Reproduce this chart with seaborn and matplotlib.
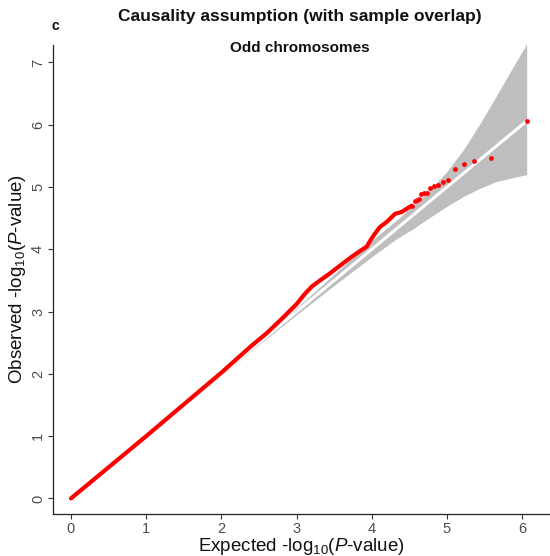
import matplotlib
matplotlib.use("Agg")
import matplotlib.pyplot as plt
import seaborn as sns
import pandas as pd

# ---- data ----
curve_expected = [0.0, 0.5, 1.0, 1.5, 2.0, 2.4, 2.6, 2.8, 3.0, 3.1, 3.2, 3.3, 3.44, 3.58,
                  3.71, 3.84, 3.93, 3.98, 4.04, 4.11, 4.20, 4.31, 4.40, 4.45, 4.53]
curve_observed = [0.0, 0.5, 1.0, 1.51, 2.02, 2.45, 2.65, 2.88, 3.12, 3.27, 3.40, 3.49, 3.61, 3.74,
                  3.86, 3.97, 4.04, 4.14, 4.25, 4.36, 4.44, 4.57, 4.60, 4.64, 4.70]

tail_expected = [4.53, 4.57, 4.60, 4.63, 4.66, 4.70, 4.73, 4.78, 4.83, 4.88, 4.95, 5.02,
                 5.11, 5.22, 5.36, 5.58, 6.06]
tail_observed = [4.70, 4.78, 4.79, 4.80, 4.88, 4.90, 4.91, 4.98, 5.01, 5.03, 5.08, 5.12,
                 5.29, 5.37, 5.42, 5.47, 6.06]

band_expected = [0.0, 1.0, 2.0, 2.5, 3.0, 3.5, 4.0, 4.33, 4.55, 4.77, 5.0, 5.22, 5.44,
                 5.66, 5.88, 6.06]
band_upper = [0.0, 1.0, 2.02, 2.53, 3.06, 3.60, 4.14, 4.47, 4.70, 4.95, 5.25, 5.60, 6.02,
              6.47, 6.93, 7.30]
band_lower = [0.0, 1.0, 1.98, 2.47, 2.95, 3.42, 3.88, 4.17, 4.33, 4.51, 4.69, 4.85, 4.98,
              5.09, 5.15, 5.20]

diag_ends = [0.0, 6.06]

title = "Causality assumption (with sample overlap)"
subtitle = "Odd chromosomes"
panel_tag = "c"
x_ticks = [0, 1, 2, 3, 4, 5, 6]
y_ticks = [0, 1, 2, 3, 4, 5, 6, 7]

# ---- plotting ----
sns.set_theme(style="ticks")
plt.rcParams["font.family"] = ["Liberation Sans", "DejaVu Sans"]
plt.rcParams["mathtext.fontset"] = "custom"
plt.rcParams["mathtext.rm"] = "Liberation Sans"
plt.rcParams["mathtext.it"] = "Liberation Sans:italic"

fig = plt.figure(figsize=(5.5, 5.56), dpi=100)
ax = fig.add_axes([52.7 / 550, 42 / 556, 1 - 52.7 / 550, (514 - 45) / 556])

band = pd.DataFrame({"x": band_expected, "lo": band_lower, "hi": band_upper})
ax.fill_between(band["x"], band["lo"], band["hi"], color="#BEBEBE", linewidth=0, zorder=1)

diag = pd.DataFrame({"x": diag_ends, "y": diag_ends})
sns.lineplot(data=diag, x="x", y="y", color="white", linewidth=2.2, ax=ax, zorder=2)

curve = pd.DataFrame({"x": curve_expected, "y": curve_observed})
sns.lineplot(data=curve, x="x", y="y", color="#FF0000", linewidth=3.0, ax=ax, zorder=3,
             solid_capstyle="round", solid_joinstyle="round")

tail = pd.DataFrame({"x": tail_expected, "y": tail_observed})
sns.scatterplot(data=tail, x="x", y="y", color="#FF0000", s=12, linewidth=0, ax=ax, zorder=4)

ax.set_xlim(-0.243, 6.37)
ax.set_ylim(-0.25, 7.28)
ax.set_xticks(x_ticks)
ax.set_yticks(y_ticks)
ax.tick_params(axis="both", which="major", length=3.5, width=0.8, color="#333333",
               labelsize=10.5, labelcolor="#4D4D4D", pad=2)
for lab in ax.get_yticklabels():
    lab.set_rotation(90)
    lab.set_va("center")
for side in ["top", "right"]:
    ax.spines[side].set_visible(False)
for side in ["left", "bottom"]:
    ax.spines[side].set_linewidth(0.9)
    ax.spines[side].set_color("#222222")

ax.set_xlabel(r"Expected -log$_{10}$($\it{P}$-value)", fontsize=13.5, color="#111111", labelpad=0)
ax.set_ylabel(r"Observed -log$_{10}$($\it{P}$-value)", fontsize=13.5, color="#111111", labelpad=2)

fig.text(300 / 550, 1 - 17 / 556, title, ha="center", va="center", fontsize=12.5,
         fontweight="bold", color="#111111")
fig.text(300 / 550, 1 - 48 / 556, subtitle, ha="center", va="center", fontsize=11,
         fontweight="bold", color="#111111")
fig.text(55 / 550, 1 - 26 / 556, panel_tag, ha="center", va="center", fontsize=10,
         fontweight="bold", color="#111111")

fig.savefig("out.png", dpi=100)
